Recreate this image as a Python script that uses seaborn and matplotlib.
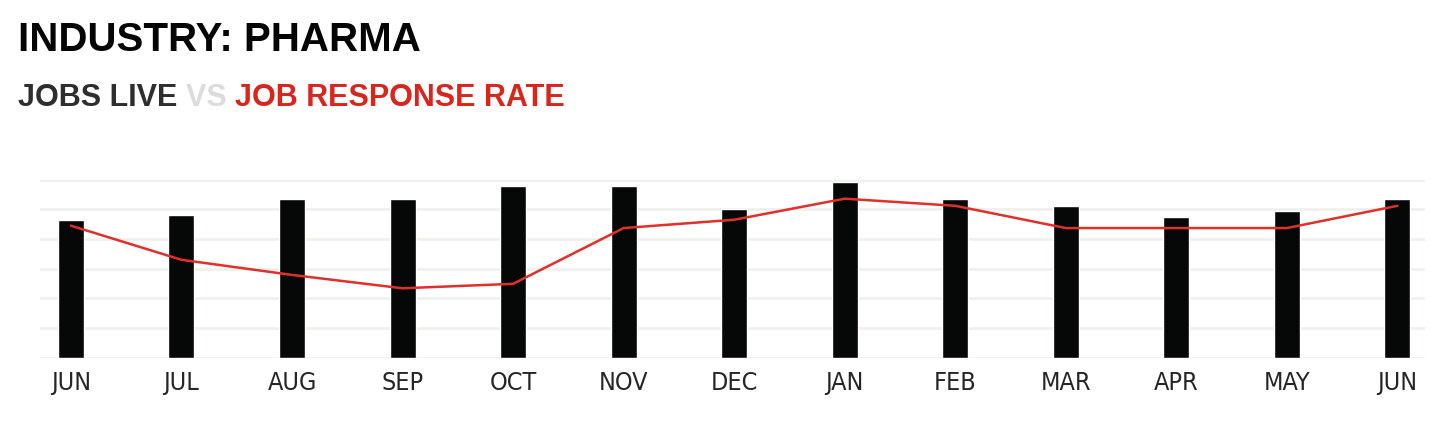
import matplotlib
matplotlib.use("Agg")
import matplotlib.pyplot as plt
import seaborn as sns

# Values (gridline units, 0 = baseline)
months = ["JUN", "JUL", "AUG", "SEP", "OCT", "NOV", "DEC", "JAN", "FEB", "MAR", "APR", "MAY", "JUN"]
jobs_live = [4.65, 4.82, 5.35, 5.35, 5.8, 5.8, 5.01, 5.91, 5.35, 5.10, 4.74, 4.93, 5.36]
response_rate = [4.45, 3.30, 2.79, 2.34, 2.49, 4.37, 4.65, 5.36, 5.12, 4.37, 4.37, 4.37, 5.12]

sns.set_style("white")
plt.rcParams['font.family'] = ['Liberation Sans', 'DejaVu Sans']

fig = plt.figure(figsize=(14.4, 4.22), dpi=100)
ax = fig.add_axes([40 / 1440, (422 - 357.7) / 422, (1425 - 40) / 1440, (357.7 - 179.7) / 422])

idx = list(range(len(months)))
sns.barplot(x=idx, y=jobs_live, color="#060808", width=0.235, saturation=1, ax=ax, zorder=2)
sns.lineplot(x=idx, y=response_rate, color="#e0302a", linewidth=1.8, ax=ax, zorder=3)

ax.set_xlim(-0.28, 12.25)
ax.set_ylim(0, 6)
ax.set_yticks(range(7))
ax.yaxis.grid(True, color="#f0f0ec", linewidth=2)
ax.set_axisbelow(True)
ax.tick_params(axis='y', left=False, labelleft=False)
ax.tick_params(axis='x', bottom=False, pad=6)
ax.set_xticks(idx)
ax.set_xticklabels(months, fontsize=18, color="#262626",
                   family='DejaVu Sans', fontstretch='condensed')
for s in ax.spines.values():
    s.set_visible(False)

# title and two-colour subtitle
fig.text(18 / 1440, 1 - 40 / 422, "INDUSTRY: PHARMA", fontsize=29, fontweight='bold',
         color="#050505", va='center', ha='left')
parts = [("JOBS LIVE ", "#2e2e2e"), ("VS ", "#dcdcdc"), ("JOB RESPONSE RATE", "#d9261c")]
fig.canvas.draw()
x = 18 / 1440
r = fig.canvas.get_renderer()
for txt, col in parts:
    t = fig.text(x, 1 - 98 / 422, txt, fontsize=22, fontweight='bold', color=col,
                 va='center', ha='left')
    bb = t.get_window_extent(renderer=r)
    x += bb.width / 1440

fig.savefig("out.png", dpi=100)
